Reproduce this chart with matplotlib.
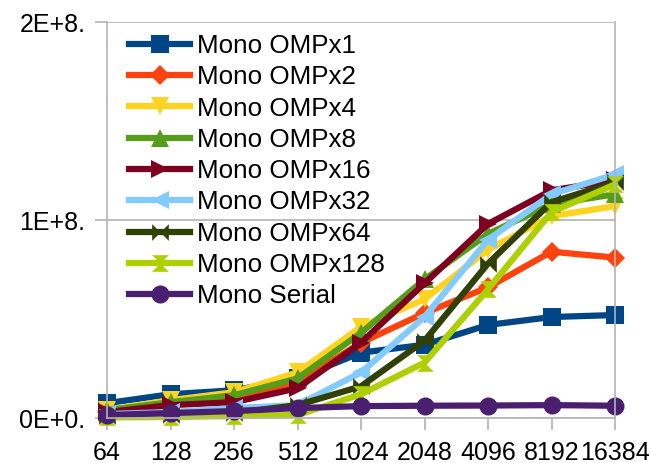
import matplotlib
matplotlib.use("Agg")
import matplotlib.pyplot as plt
from matplotlib.path import Path

plt.rcParams['font.family'] = ['Liberation Sans', 'DejaVu Sans']

sizes = ["64", "128", "256", "512", "1024", "2048", "4096", "8192", "16384"]

omp1 = [7.5e6, 1.2e7, 1.4e7, 2.0e7, 3.3e7, 3.7e7, 4.7e7, 5.1e7, 5.2e7]
omp2 = [3.0e6, 6.5e6, 1.0e7, 1.8e7, 3.8e7, 5.3e7, 6.6e7, 8.4e7, 8.1e7]
omp4 = [4.0e6, 9.0e6, 1.3e7, 2.3e7, 4.6e7, 6.0e7, 8.5e7, 1.02e8, 1.07e8]
omp8 = [4.0e6, 8.0e6, 1.15e7, 2.0e7, 4.3e7, 7.0e7, 9.3e7, 1.08e8, 1.13e8]
omp16 = [3.0e6, 6.5e6, 8.0e6, 1.5e7, 3.8e7, 6.8e7, 9.8e7, 1.15e8, 1.2e8]
omp32 = [2.0e6, 3.0e6, 5.0e6, 6.5e6, 2.3e7, 5.1e7, 9.0e7, 1.13e8, 1.23e8]
omp64 = [1.0e6, 1.5e6, 2.5e6, 6.5e6, 1.6e7, 3.9e7, 7.8e7, 1.09e8, 1.19e8]
omp128 = [0.3e6, 0.5e6, 1.0e6, 1.5e6, 1.2e7, 2.8e7, 6.5e7, 1.04e8, 1.18e8]
serial = [1.5e6, 2.5e6, 3.5e6, 5.0e6, 6.0e6, 6.2e6, 6.3e6, 6.5e6, 6.2e6]

labels = ["Mono OMPx1", "Mono OMPx2", "Mono OMPx4", "Mono OMPx8", "Mono OMPx16",
          "Mono OMPx32", "Mono OMPx64", "Mono OMPx128", "Mono Serial"]
colors = ["#004586", "#ff420e", "#ffd320", "#579d1c", "#7e0021",
          "#83caff", "#314004", "#aecf00", "#4b1f6f"]

# custom LibreOffice-like markers
bowtie = Path([(-1, -1), (1, 1), (1, -1), (-1, 1), (-1, -1)],
              [Path.MOVETO, Path.LINETO, Path.LINETO, Path.LINETO, Path.CLOSEPOLY])
hourglass = Path([(-1, 1), (1, 1), (-1, -1), (1, -1), (-1, 1)],
                 [Path.MOVETO, Path.LINETO, Path.LINETO, Path.LINETO, Path.CLOSEPOLY])
markers = ["s", "D", "v", "^", ">", "<", bowtie, hourglass, "o"]
msizes = [13, 10, 13, 13, 13, 13, 12, 12, 13]

series = [omp1, omp2, omp4, omp8, omp16, omp32, omp64, omp128, serial]

fig = plt.figure(figsize=(6.52, 4.63), dpi=100)
ax = fig.add_axes([107 / 652, 1 - 418 / 463, (615 - 107) / 652, (418 - 22) / 463])

x = list(range(len(sizes)))
for vals, lab, col, mk, ms in zip(series, labels, colors, markers, msizes):
    ax.plot(x, vals, color=col, lw=4.5, marker=mk, markersize=ms,
            markeredgewidth=0, label=lab, clip_on=False)

ax.set_xlim(0, len(sizes) - 1)
ax.set_ylim(0, 2e8)
ax.set_xticks(x)
ax.set_xticklabels(sizes, fontsize=18)
ax.set_yticks([0, 1e8, 2e8])
ax.set_yticklabels(["0E+0.", "1E+8.", "2E+8."], fontsize=18)

grid_col = "#b3b3b3"
ax.yaxis.grid(True, color=grid_col, lw=1.2)
ax.set_axisbelow(True)
for s in ["left", "bottom", "right"]:
    ax.spines[s].set_color(grid_col)
    ax.spines[s].set_linewidth(1.2)
ax.spines["top"].set_visible(False)
ax.tick_params(axis="both", direction="out", color=grid_col, width=1.2, length=8.6)
ax.tick_params(axis="y", pad=7)
ax.tick_params(axis="x", pad=8)

ax.legend(loc="upper left", bbox_to_anchor=(22 / 508, 1 - 12 / 396), frameon=False,
          fontsize=18.7, handlelength=2.35, handletextpad=0.28, labelspacing=0.28,
          borderpad=0, borderaxespad=0)

fig.savefig("out.png", dpi=100)
